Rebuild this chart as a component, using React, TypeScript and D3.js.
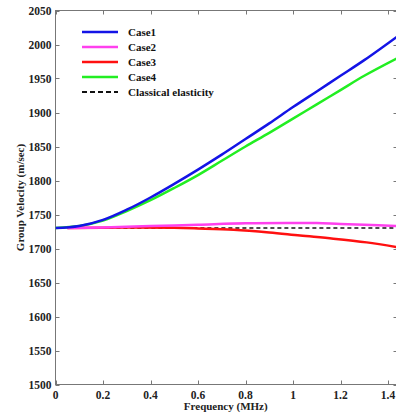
import { useEffect, useRef } from "react";
import * as d3 from "d3";

// frequency (MHz) samples for each series
const freqA = [0, 0.1, 0.2, 0.3, 0.4, 0.5, 0.6, 0.7, 0.8, 0.9, 1.0, 1.1, 1.2, 1.3, 1.44];
const case1 = [1730, 1733, 1742, 1757, 1775, 1795, 1816, 1838, 1861, 1884, 1908, 1931, 1954, 1977, 2012];
const case4 = [1730, 1733, 1741, 1755, 1771, 1789, 1808, 1829, 1850, 1870, 1891, 1912, 1933, 1954, 1980];

const freqB = [0.05, 0.2, 0.4, 0.6, 0.8, 1.0, 1.1, 1.2, 1.3, 1.44];
const case2 = [1730, 1731, 1733, 1735, 1737, 1737.5, 1737.5, 1736, 1735, 1733];

const freqC = [0.05, 0.3, 0.5, 0.6, 0.75, 0.9, 1.03, 1.17, 1.31, 1.44];
const case3 = [1730, 1731, 1730.5, 1729.5, 1727.5, 1723.5, 1719, 1714.5, 1709, 1702];

const freqD = [0.05, 1.44];
const classical = [1730, 1730];

const xTicks = [0, 0.2, 0.4, 0.6, 0.8, 1, 1.2, 1.4];
const yTicks = [1500, 1550, 1600, 1650, 1700, 1750, 1800, 1850, 1900, 1950, 2000, 2050];

const legendNames = ["Case1", "Case2", "Case3", "Case4", "Classical elasticity"];

interface Pt {
  f: number;
  v: number;
}

const zip = (fs: number[], vs: number[]): Pt[] => fs.map((f, i) => ({ f, v: vs[i] }));

const series = [
  { name: "Case1", data: zip(freqA, case1), color: "#1414e6", dash: "" },
  { name: "Case2", data: zip(freqB, case2), color: "#ff40ee", dash: "" },
  { name: "Case3", data: zip(freqC, case3), color: "#ff1010", dash: "" },
  { name: "Case4", data: zip(freqA, case4), color: "#22ee22", dash: "" },
  { name: "Classical elasticity", data: zip(freqD, classical), color: "#111", dash: "4,3" },
];

const W = 396;
const H = 414;
const FONT = "'Liberation Serif', 'DejaVu Serif', serif";

export default function App() {
  const svgRef = useRef<SVGSVGElement>(null);

  useEffect(() => {
    if (!svgRef.current) return;
    const svg = d3.select(svgRef.current);
    svg.selectAll("*").remove();

    const x = d3.scaleLinear().domain([0, 1.44]).range([55.5, 397.5]);
    const y = d3.scaleLinear().domain([1500, 2050]).range([384.5, 10.5]);
    const [x0, x1] = x.range();
    const [y0, y1] = y.range();

    svg
      .append("defs")
      .append("clipPath")
      .attr("id", "plot-clip")
      .append("rect")
      .attr("x", x0)
      .attr("y", y1)
      .attr("width", x1 - x0)
      .attr("height", y0 - y1);

    const axisColor = "#777";
    const tickLen = 4;

    // frame
    svg
      .append("rect")
      .attr("x", x0)
      .attr("y", y1)
      .attr("width", x1 - x0)
      .attr("height", y0 - y1)
      .attr("fill", "none")
      .attr("stroke", axisColor)
      .attr("stroke-width", 1);

    // ticks on all four sides, pointing inwards
    const ticks = svg.append("g").attr("stroke", axisColor).attr("stroke-width", 1);
    xTicks.forEach((t) => {
      const px = Math.round(x(t)) + 0.5;
      ticks.append("line").attr("x1", px).attr("x2", px).attr("y1", y0).attr("y2", y0 - tickLen);
      ticks.append("line").attr("x1", px).attr("x2", px).attr("y1", y1).attr("y2", y1 + tickLen);
    });
    yTicks.forEach((t) => {
      const py = Math.round(y(t)) + 0.5;
      ticks.append("line").attr("x1", x0).attr("x2", x0 + tickLen).attr("y1", py).attr("y2", py);
      ticks.append("line").attr("x1", x1).attr("x2", x1 - tickLen).attr("y1", py).attr("y2", py);
    });

    const labels = svg
      .append("g")
      .attr("font-family", FONT)
      .attr("font-weight", "bold")
      .attr("font-size", 11.5)
      .attr("fill", "#222");

    xTicks.forEach((t) => {
      labels
        .append("text")
        .attr("x", x(t))
        .attr("y", y0 + 14)
        .attr("text-anchor", "middle")
        .text(d3.format("~g")(t));
    });
    yTicks.forEach((t) => {
      labels
        .append("text")
        .attr("x", x0 - 4)
        .attr("y", y(t) + 4)
        .attr("text-anchor", "end")
        .text(t);
    });

    labels
      .append("text")
      .attr("x", (x0 + 396) / 2)
      .attr("y", 410)
      .attr("text-anchor", "middle")
      .attr("font-size", 11)
      .text("Frequency (MHz)");

    labels
      .append("text")
      .attr("transform", `translate(24,${(y0 + y1) / 2}) rotate(-90)`)
      .attr("text-anchor", "middle")
      .attr("font-size", 11)
      .text("Group Velocity (m/sec)");

    const line = d3
      .line<Pt>()
      .x((d) => x(d.f))
      .y((d) => y(d.v))
      .curve(d3.curveCatmullRom.alpha(0.5));

    const plot = svg.append("g").attr("clip-path", "url(#plot-clip)");
    // draw in reverse so Case1 sits on top like the original
    [...series].reverse().forEach((s) => {
      plot
        .append("path")
        .datum(s.data)
        .attr("fill", "none")
        .attr("stroke", s.color)
        .attr("stroke-width", s.dash ? 1.5 : 2.5)
        .attr("stroke-dasharray", s.dash || null)
        .attr("d", line);
    });

    // legend
    const legend = svg.append("g");
    legendNames.forEach((name, i) => {
      const s = series.find((d) => d.name === name)!;
      const ly = 32 + i * 15;
      legend
        .append("line")
        .attr("x1", 82)
        .attr("x2", 118)
        .attr("y1", ly)
        .attr("y2", ly)
        .attr("stroke", s.color)
        .attr("stroke-width", s.dash ? 2 : 2.5)
        .attr("stroke-dasharray", s.dash ? "5,3" : null);
      legend
        .append("text")
        .attr("x", 128)
        .attr("y", ly + 4)
        .attr("font-family", FONT)
        .attr("font-weight", "bold")
        .attr("font-size", 11)
        .attr("fill", "#111")
        .text(name);
    });
  }, []);

  return (
    <svg
      ref={svgRef}
      width={W}
      height={H}
      style={{ position: "absolute", left: 0, top: 0, background: "#fff" }}
    />
  );
}
